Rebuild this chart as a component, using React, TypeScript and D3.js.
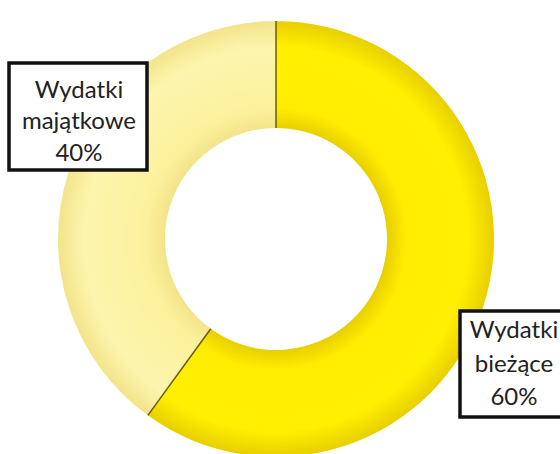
import React from "react";
import * as d3 from "d3";

const categories = ["Wydatki bieżące", "Wydatki majątkowe"];
const values = [60, 40];
const labelLines = [["Wydatki", "bieżące", "60%"], ["Wydatki", "majątkowe", "40%"]];

const W = 560, H = 454;
const cx = 276, cy = 239, rOuter = 218, rInner = 111;

export default function App() {
  const pie = d3.pie<number>().sort(null).value((d) => d);
  const arcs = pie(values);
  const arc = d3.arc<d3.PieArcDatum<number>>().innerRadius(rInner).outerRadius(rOuter);
  const grads = [
    { id: "g0", edge: "#E8CF00", mid: "#FFEC00", bright: "#FFF000" },
    { id: "g1", edge: "#F3E48A", mid: "#FBF19C", bright: "#FDF5AE" },
  ];
  const boxes = [
    { x: 460, y: 311, w: 112, h: 106, cxT: 514, lines: [338, 372, 405] },
    { x: 9, y: 63, w: 138, h: 107, cxT: 79, lines: [98, 129, 161] },
  ];
  return (
    <div style={{ position: "absolute", left: 0, top: 0 }}>
      <svg width={W} height={H} style={{ display: "block", background: "#fff" }}>
        <defs>
          {grads.map((g) => (
            <radialGradient key={g.id} id={g.id} gradientUnits="userSpaceOnUse" cx={0} cy={0} r={rOuter}>
              <stop offset={rInner / rOuter} stopColor={g.edge} />
              <stop offset={0.6} stopColor={g.mid} />
              <stop offset={0.88} stopColor={g.bright} />
              <stop offset={1} stopColor={g.edge} />
            </radialGradient>
          ))}
        </defs>
        <g transform={`translate(${cx},${cy})`}>
          {arcs.map((a, i) => (
            <path key={categories[i]} d={arc(a) || ""} fill={`url(#g${i})`} />
          ))}
          {arcs.map((a, i) => {
            const ang = a.startAngle;
            return (
              <line
                key={"l" + i}
                x1={Math.sin(ang) * rInner}
                y1={-Math.cos(ang) * rInner}
                x2={Math.sin(ang) * rOuter}
                y2={-Math.cos(ang) * rOuter}
                stroke="#6b5a10"
                strokeWidth={1.5}
              />
            );
          })}
        </g>
        {boxes.map((b, i) => (
          <g key={"b" + i}>
            <rect x={b.x} y={b.y} width={b.w} height={b.h} fill="#fff" stroke="#111" strokeWidth={3.5} />
            {labelLines[i].map((t, j) => (
              <text
                key={j}
                x={b.cxT}
                y={b.lines[j]}
                textAnchor="middle"
                fontFamily="Lato, sans-serif"
                fontSize={24}
                fill="#222"
              >
                {t}
              </text>
            ))}
          </g>
        ))}
      </svg>
    </div>
  );
}
